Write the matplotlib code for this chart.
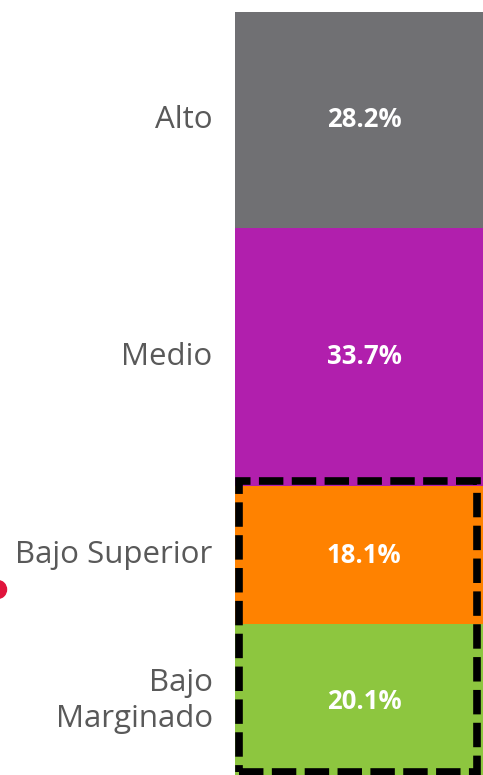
import matplotlib.pyplot as plt
from matplotlib.patches import Rectangle
from matplotlib.lines import Line2D

# segments from bottom to top
categories = ['Bajo\nMarginado', 'Bajo Superior', 'Medio', 'Alto']
values = [20.1, 18.1, 33.7, 28.2]
colors = ['#8dc63f', '#ff8200', '#b11fad', '#707073']

plt.rcParams['font.family'] = ['Open Sans', 'DejaVu Sans']

fig = plt.figure(figsize=(4.83, 7.75), dpi=100)
ax = fig.add_axes([235 / 483, -0.004, 1 - 235 / 483, 1 - 12 / 775 + 0.004])

bottom = 0
for cat, val, col in zip(categories, values, colors):
    ax.bar(0, val, width=1, bottom=bottom, color=col, edgecolor='none')
    mid = bottom + val / 2
    ax.text(0.02, mid, f'{val:.1f}%', ha='center', va='center', color='white',
            fontsize=18.5, fontweight='bold')
    ax.text(-0.59, mid, cat, ha='right', va='center', color='#595959',
            fontsize=22.5, linespacing=1.25, clip_on=False)
    bottom += val

ax.set_xlim(-0.5, 0.5)
ax.set_ylim(0, sum(values))
ax.axis('off')

# dashed box around the two "Bajo" segments
bajo_total = values[0] + values[1]
box = Rectangle((-0.484, 0.8), 0.96, bajo_total - 0.8 + 0.6, fill=False,
                edgecolor='black', linewidth=5.5, linestyle=(0, (3.2, 1.1)),
                clip_on=False, zorder=5)
ax.add_patch(box)

# red marker at left edge
fig.add_artist(Line2D([-3 / 483], [1 - 589 / 775], marker='o', markersize=13,
                      color='#e0143c', transform=fig.transFigure, linestyle='none'))

fig.savefig('out.png', dpi=100)
